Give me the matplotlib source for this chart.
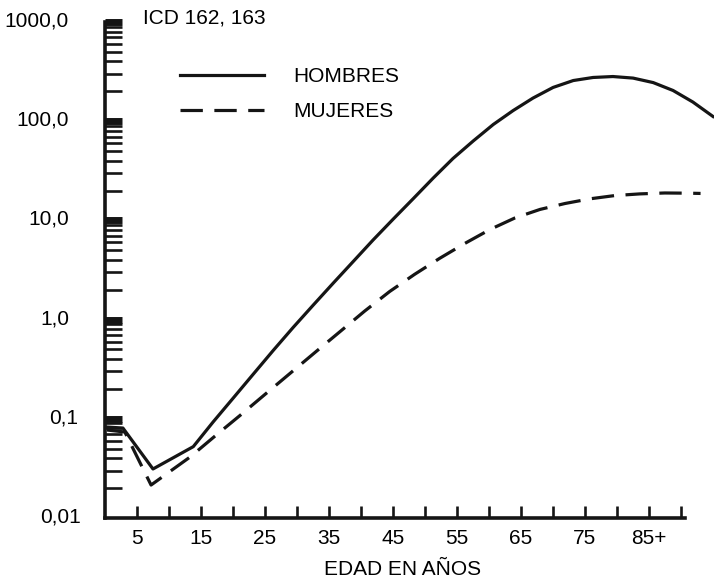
import matplotlib
matplotlib.use("Agg")
import matplotlib.pyplot as plt
from matplotlib.ticker import FixedLocator, NullFormatter
from matplotlib.transforms import ScaledTranslation

plt.rcParams['font.family'] = ['Liberation Sans', 'DejaVu Sans']

# tasas por edad (escala log)
edad_h = [0.3, 2.8, 7.5, 13.8, 16.9, 20.05, 23.2, 26.3, 29.4, 32.55, 35.7, 38.8,
          41.9, 45.05, 48.2, 51.3, 54.4, 57.55, 60.7, 63.8, 66.9, 70.05, 73.2,
          76.3, 79.4, 82.55, 85.7, 88.8, 91.9, 95.05]
tasa_h = [0.0826, 0.0807, 0.0312, 0.0524, 0.0929, 0.162, 0.283, 0.489, 0.832,
          1.40, 2.34, 3.85, 6.34, 10.3, 16.6, 26.7, 42.1, 63.1, 92.7, 128,
          171, 219, 257, 276, 282, 272, 245, 204, 156, 111.5]

edad_m = [0.3, 3.1, 7.2, 13.3, 17.2, 21.1, 25.0, 28.9, 32.8, 36.7, 40.6, 44.5,
          48.4, 52.3, 56.25, 60.2, 64.1, 68.0, 71.9, 75.8, 79.7, 83.6, 87.5,
          91.4, 93.1]
tasa_m = [0.0771, 0.0736, 0.0215, 0.0412, 0.0670, 0.108, 0.176, 0.286, 0.465,
          0.753, 1.22, 1.92, 2.86, 4.14, 5.86, 8.11, 10.6, 12.9, 14.8, 16.5,
          17.8, 18.5, 18.9, 18.8, 18.7]

x_ticks = [5, 10, 15, 20, 25, 30, 35, 40, 45, 50, 55, 60, 65, 70, 75, 80, 85, 90]
x_labels = ['5', '', '15', '', '25', '', '35', '', '45', '', '55', '', '65', '', '75', '', '85+', '']
y_ticks = [0.01, 0.1, 1, 10, 100, 1000]
y_labels = ['0,01', '0,1', '1,0', '10,0', '100,0', '1000,0']

ink = '#151515'
fs = 15

fig = plt.figure(figsize=(7.14, 5.81), dpi=100)
ax = fig.add_axes([105 / 714, 63 / 581, 609 / 714, 496 / 581])

ax.plot(edad_h, tasa_h, color=ink, lw=2.3, solid_joinstyle='round', label='HOMBRES')
ax.plot(edad_m, tasa_m, color=ink, lw=2.3, dashes=(7, 3.6), dash_capstyle='butt',
        label='MUJERES')

ax.set_yscale('log')
ax.set_ylim(0.01, 1000)
ax.set_xlim(0, 95.2)

for s in ['top', 'right']:
    ax.spines[s].set_visible(False)
ax.spines['left'].set_linewidth(2.6)
ax.spines['bottom'].set_linewidth(2.6)
ax.spines['left'].set_color(ink)
ax.spines['bottom'].set_color(ink)
ax.spines['bottom'].set_bounds(0, 90.6)

ax.set_yticks(y_ticks)
ax.set_yticklabels(y_labels)
minors = [m * 10.0 ** e for e in range(-2, 3) for m in range(2, 10)]
ax.yaxis.set_minor_locator(FixedLocator(minors))
ax.yaxis.set_minor_formatter(NullFormatter())
ax.tick_params(axis='y', which='major', direction='in', length=12.5, width=5,
               color=ink, pad=26, labelsize=fs)
ax.tick_params(axis='y', which='minor', direction='in', length=12.5, width=1.9,
               color=ink)
ax.yaxis.get_major_ticks()[0].tick1line.set_visible(False)

# las dos etiquetas inferiores estan algo corridas a la derecha
for lab, dx in zip(ax.get_yticklabels()[:2], [0.12, 0.09]):
    lab.set_transform(lab.get_transform() + ScaledTranslation(dx, 0, fig.dpi_scale_trans))
for lab in ax.get_yticklabels():
    lab.set_transform(lab.get_transform() + ScaledTranslation(0, 0.03, fig.dpi_scale_trans))

ax.set_xticks(x_ticks)
ax.set_xticklabels(x_labels)
ax.tick_params(axis='x', which='major', direction='in', length=9, width=1.9,
               color=ink, pad=8, labelsize=fs)

ax.set_xlabel('EDAD EN AÑOS', fontsize=fs, labelpad=8)
ax.xaxis.set_label_coords(0.489, -0.085)

fig.text(143 / 714, 1 - 18.5 / 581, 'ICD 162, 163', fontsize=fs, va='center', ha='left')

ax.legend(loc='upper left', bbox_to_anchor=(170 / 714, 1 - 57 / 581),
          bbox_transform=fig.transFigure, frameon=False, fontsize=fs,
          handlelength=4.0, handletextpad=1.4, labelspacing=0.75, borderpad=0)

fig.savefig('out.png', dpi=100)
